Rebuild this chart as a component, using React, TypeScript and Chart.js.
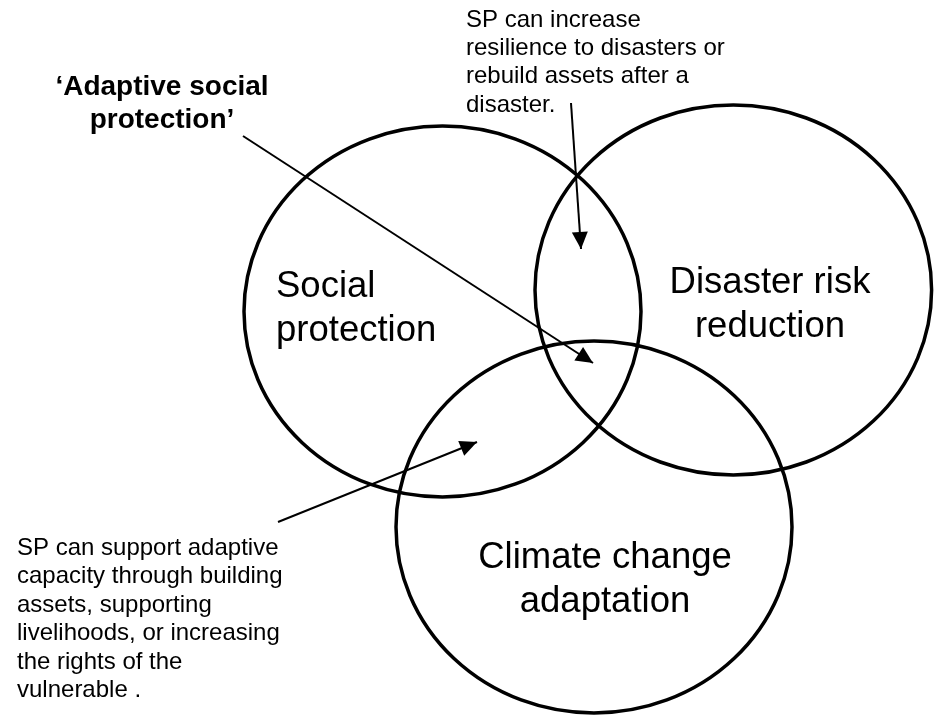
import React, { useEffect, useRef } from "react";
import { Chart, registerables } from "chart.js";

Chart.register(...registerables);

// Circles (in picture units: x to the right, y downward)
const circleNames = ["Social protection", "Disaster risk reduction", "Climate change adaptation"];
const circleCenterX = [442.5, 733.3, 594];
const circleCenterY = [311.5, 290, 527];
const circleRadiusX = [198.5, 198.3, 198];
const circleRadiusY = [185.5, 185, 186];

// Circle labels
const labelLines = [["Social", "protection"], ["Disaster risk", "reduction"], ["Climate change", "adaptation"]];
const labelX = [276, 770, 605];
const labelFirstBaseline = [297, 293, 568];
const labelAlign = ["left", "center", "center"];

// Callout notes
const noteLines = [
  ["\u2018Adaptive social", "protection\u2019"],
  ["SP can increase", "resilience to disasters or", "rebuild assets after a", "disaster."],
  [
    "SP can support adaptive",
    "capacity through building",
    "assets, supporting",
    "livelihoods, or increasing",
    "the rights of the",
    "vulnerable .",
  ],
];
const noteX = [162, 466, 17];
const noteFirstBaseline = [95, 26.5, 555];
const noteAlign = ["center", "left", "left"];
const noteBold = [true, false, false];

// Arrows (start -> tip)
const arrowStartX = [243, 571, 278];
const arrowStartY = [136, 103, 522];
const arrowEndX = [593, 581, 477];
const arrowEndY = [363, 249, 442];

const FONT = '"Liberation Sans", Arial, Helvetica, sans-serif';

const diagramPlugin = {
  id: "venn",
  beforeDatasetsDraw(chart: any) {
    const { ctx, scales } = chart;
    const xs = scales.x;
    const ys = scales.y;
    ctx.save();
    ctx.strokeStyle = "#000";
    ctx.lineWidth = 3.5;
    for (let i = 0; i < circleNames.length; i++) {
      const cx = xs.getPixelForValue(circleCenterX[i]);
      const cy = ys.getPixelForValue(circleCenterY[i]);
      const rx = Math.abs(xs.getPixelForValue(circleCenterX[i] + circleRadiusX[i]) - cx);
      const ry = Math.abs(ys.getPixelForValue(circleCenterY[i] + circleRadiusY[i]) - cy);
      ctx.beginPath();
      ctx.ellipse(cx, cy, rx, ry, 0, 0, Math.PI * 2);
      ctx.stroke();
    }
    ctx.restore();
  },
  afterDatasetsDraw(chart: any) {
    const { ctx, scales } = chart;
    const xs = scales.x;
    const ys = scales.y;
    ctx.save();
    // arrow heads
    ctx.fillStyle = "#000";
    for (let i = 0; i < arrowEndX.length; i++) {
      const x0 = xs.getPixelForValue(arrowStartX[i]);
      const y0 = ys.getPixelForValue(arrowStartY[i]);
      const x1 = xs.getPixelForValue(arrowEndX[i]);
      const y1 = ys.getPixelForValue(arrowEndY[i]);
      const ang = Math.atan2(y1 - y0, x1 - x0);
      const len = 17;
      const half = 8;
      const bx = x1 - len * Math.cos(ang);
      const by = y1 - len * Math.sin(ang);
      ctx.beginPath();
      ctx.moveTo(x1, y1);
      ctx.lineTo(bx + half * Math.sin(ang), by - half * Math.cos(ang));
      ctx.lineTo(bx - half * Math.sin(ang), by + half * Math.cos(ang));
      ctx.closePath();
      ctx.fill();
    }
    // texts
    ctx.fillStyle = "#000";
    ctx.textBaseline = "alphabetic";
    ctx.font = `36.5px ${FONT}`;
    for (let i = 0; i < labelLines.length; i++) {
      ctx.textAlign = labelAlign[i];
      labelLines[i].forEach((t, j) => {
        ctx.fillText(t, xs.getPixelForValue(labelX[i]), ys.getPixelForValue(labelFirstBaseline[i] + j * 43.5));
      });
    }
    for (let i = 0; i < noteLines.length; i++) {
      const size = noteBold[i] ? 28 : 24;
      const lh = noteBold[i] ? 33 : 28.4;
      ctx.font = `${noteBold[i] ? "bold " : ""}${size}px ${FONT}`;
      ctx.textAlign = noteAlign[i];
      noteLines[i].forEach((t, j) => {
        ctx.fillText(t, xs.getPixelForValue(noteX[i]), ys.getPixelForValue(noteFirstBaseline[i] + j * lh));
      });
    }
    ctx.restore();
  },
};

export default function App() {
  const ref = useRef<HTMLCanvasElement | null>(null);
  useEffect(() => {
    if (!ref.current) return;
    const datasets = arrowStartX.map((_, i) => ({
      label: `arrow${i}`,
      data: [
        { x: arrowStartX[i], y: arrowStartY[i] },
        { x: arrowEndX[i], y: arrowEndY[i] },
      ],
      showLine: true,
      borderColor: "#000",
      borderWidth: 2,
      pointRadius: 0,
      pointHoverRadius: 0,
      fill: false,
    }));
    const chart = new Chart(ref.current, {
      type: "scatter",
      data: { datasets },
      options: {
        animation: false,
        responsive: false,
        devicePixelRatio: 1,
        layout: { padding: 0 },
        events: [],
        plugins: { legend: { display: false }, tooltip: { enabled: false } },
        scales: {
          x: { type: "linear", min: 0, max: 941, display: false },
          y: { type: "linear", min: 0, max: 721, reverse: true, display: false },
        },
      },
      plugins: [diagramPlugin],
    });
    return () => chart.destroy();
  }, []);
  return (
    <div style={{ position: "fixed", left: 0, top: 0, width: 941, height: 721, background: "#fff" }}>
      <canvas ref={ref} width={941} height={721} style={{ display: "block" }} />
    </div>
  );
}
